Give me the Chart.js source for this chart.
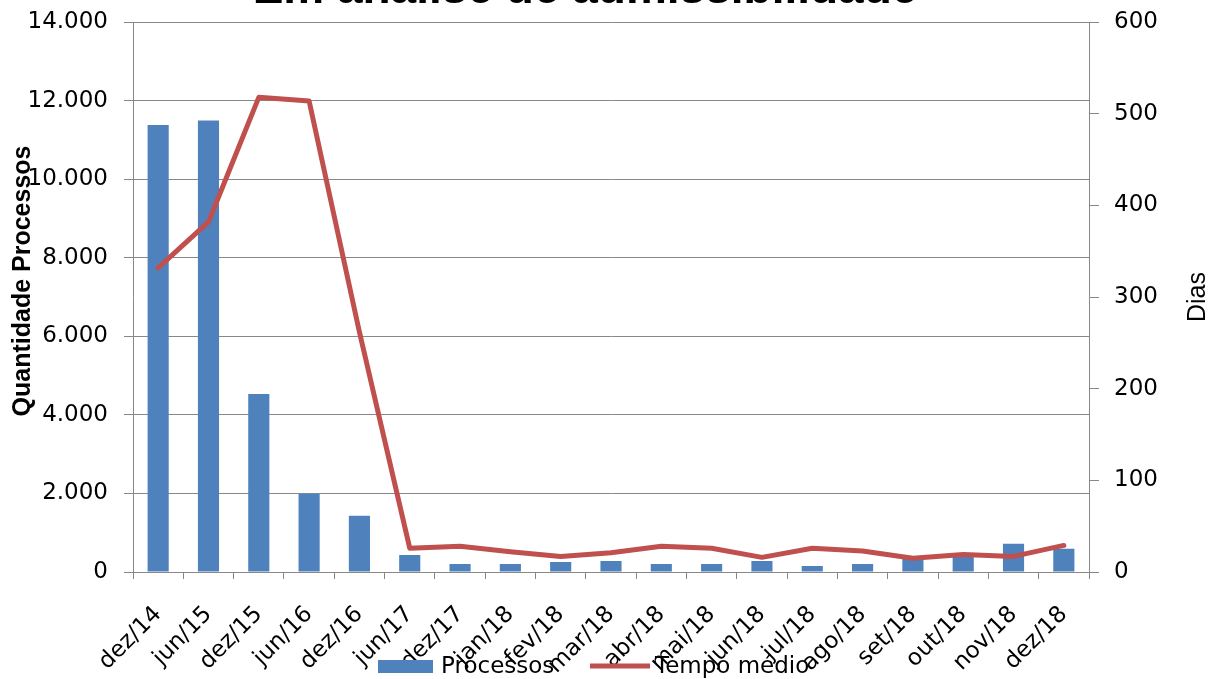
<!DOCTYPE html>
<html>
<head>
<meta charset="utf-8">
<script src="https://cdn.jsdelivr.net/npm/chart.js@4/dist/chart.umd.min.js"></script>
<style>
  html, body { margin: 0; padding: 0; background: #fff; overflow: hidden; width: 1216px; height: 679px; }
  #wrap { position: absolute; left: -46px; top: -37px; width: 1262px; height: 716px; }
</style>
</head>
<body>
<div id="wrap"><canvas id="c"></canvas></div>
<script>
// ---- data ----
const categories = ["dez/14","jun/15","dez/15","jun/16","dez/16","jun/17","dez/17","jan/18","fev/18","mar/18","abr/18","mai/18","jun/18","jul/18","ago/18","set/18","out/18","nov/18","dez/18"];
const processos = [11380, 11500, 4530, 1990, 1430, 430, 205, 205, 255, 280, 205, 205, 280, 155, 205, 340, 420, 720, 590];
const tempoMedio = [332, 382, 518, 514, 262, 26, 28, 22, 17, 21, 28, 26, 16, 26, 23, 15, 19, 17, 29];
const leftTicksMax = 14000, leftStep = 2000;
const rightTicksMax = 600, rightStep = 100;
const titleText = "Em análise de admissibilidade";
const leftTitle = "Quantidade Processos";
const rightTitle = "Dias";
const seriesNames = ["Processos", "Tempo médio"];

const OX = 46, OY = 37; // canvas offset relative to page
const BLUE = "#4F81BD", RED = "#C0504D", GRID = "#888888";
const tickFont = { family: "DejaVu Sans", size: 23 };

function fmt(v) { return String(v).replace(/\B(?=(\d{3})+(?!\d))/g, "."); }

const extras = {
  id: "extras",
  afterDraw(chart) {
    const ctx = chart.ctx;
    ctx.save();
    ctx.fillStyle = "#000";
    // left axis title
    ctx.save();
    ctx.translate(23 + OX, 281 + OY);
    ctx.rotate(-Math.PI / 2);
    ctx.font = 'bold 25px "Liberation Sans"';
    ctx.textAlign = "center"; ctx.textBaseline = "middle";
    ctx.fillText(leftTitle, 0, 0);
    ctx.restore();
    // right axis title
    ctx.save();
    ctx.translate(1198 + OX, 297 + OY);
    ctx.rotate(-Math.PI / 2);
    ctx.font = '25px "Liberation Sans"';
    ctx.textAlign = "center"; ctx.textBaseline = "middle";
    ctx.fillText(rightTitle, 0, 0);
    ctx.restore();
    // legend
    const ly = 667 + OY;
    ctx.font = '23px "DejaVu Sans"';
    ctx.textAlign = "left"; ctx.textBaseline = "middle";
    ctx.fillStyle = BLUE;
    ctx.fillRect(378 + OX, ly - 7, 55, 13);
    ctx.fillStyle = "#000";
    ctx.fillText(seriesNames[0], 441 + OX, ly);
    ctx.strokeStyle = RED; ctx.lineWidth = 5;
    ctx.beginPath(); ctx.moveTo(590 + OX, ly - 1); ctx.lineTo(650 + OX, ly - 1); ctx.stroke();
    ctx.fillText(seriesNames[1], 655 + OX, ly);
    ctx.restore();
  }
};

new Chart(document.getElementById("c"), {
  type: "bar",
  data: {
    labels: categories,
    datasets: [
      { type: "bar", label: seriesNames[0], data: processos, backgroundColor: BLUE, yAxisID: "y",
        categoryPercentage: 1.0, barPercentage: 0.42, order: 2 },
      { type: "line", label: seriesNames[1], data: tempoMedio, borderColor: RED, backgroundColor: RED,
        borderWidth: 5, pointRadius: 0, tension: 0, fill: false, yAxisID: "y1", order: 1,
        borderJoinStyle: "round", borderCapStyle: "round" }
    ]
  },
  options: {
    responsive: true, maintainAspectRatio: false, animation: false,
    layout: { padding: 0 },
    plugins: {
      legend: { display: false },
      tooltip: { enabled: false },
      title: { display: true, text: titleText, color: "#000",
        font: { family: "Liberation Sans", size: 46, weight: "bold" }, padding: { top: 0, bottom: 4 } }
    },
    scales: {
      x: {
        offset: true,
        grid: { offset: true, drawOnChartArea: false, drawTicks: true, tickLength: 7, color: GRID },
        border: { display: true, color: GRID },
        ticks: { color: "#000", font: tickFont, autoSkip: false, minRotation: 45, maxRotation: 45, padding: 22 },
        afterFit(s) { s.height = 716 - 609; }
      },
      y: {
        position: "left", min: 0, max: leftTicksMax,
        ticks: { stepSize: leftStep, color: "#000", font: tickFont, padding: 16, callback: v => fmt(v) },
        grid: { color: GRID, tickLength: 9 },
        border: { display: true, color: GRID },
        afterFit(s) { s.width = 133 + OX; }
      },
      y1: {
        position: "right", min: 0, max: rightTicksMax,
        ticks: { stepSize: rightStep, color: "#000", font: tickFont, padding: 15 },
        grid: { drawOnChartArea: false, color: GRID, tickLength: 10 },
        border: { display: true, color: GRID },
        afterFit(s) { s.width = 1262 - (1089 + OX); }
      }
    }
  },
  plugins: [extras]
});
</script>
</body>
</html>
